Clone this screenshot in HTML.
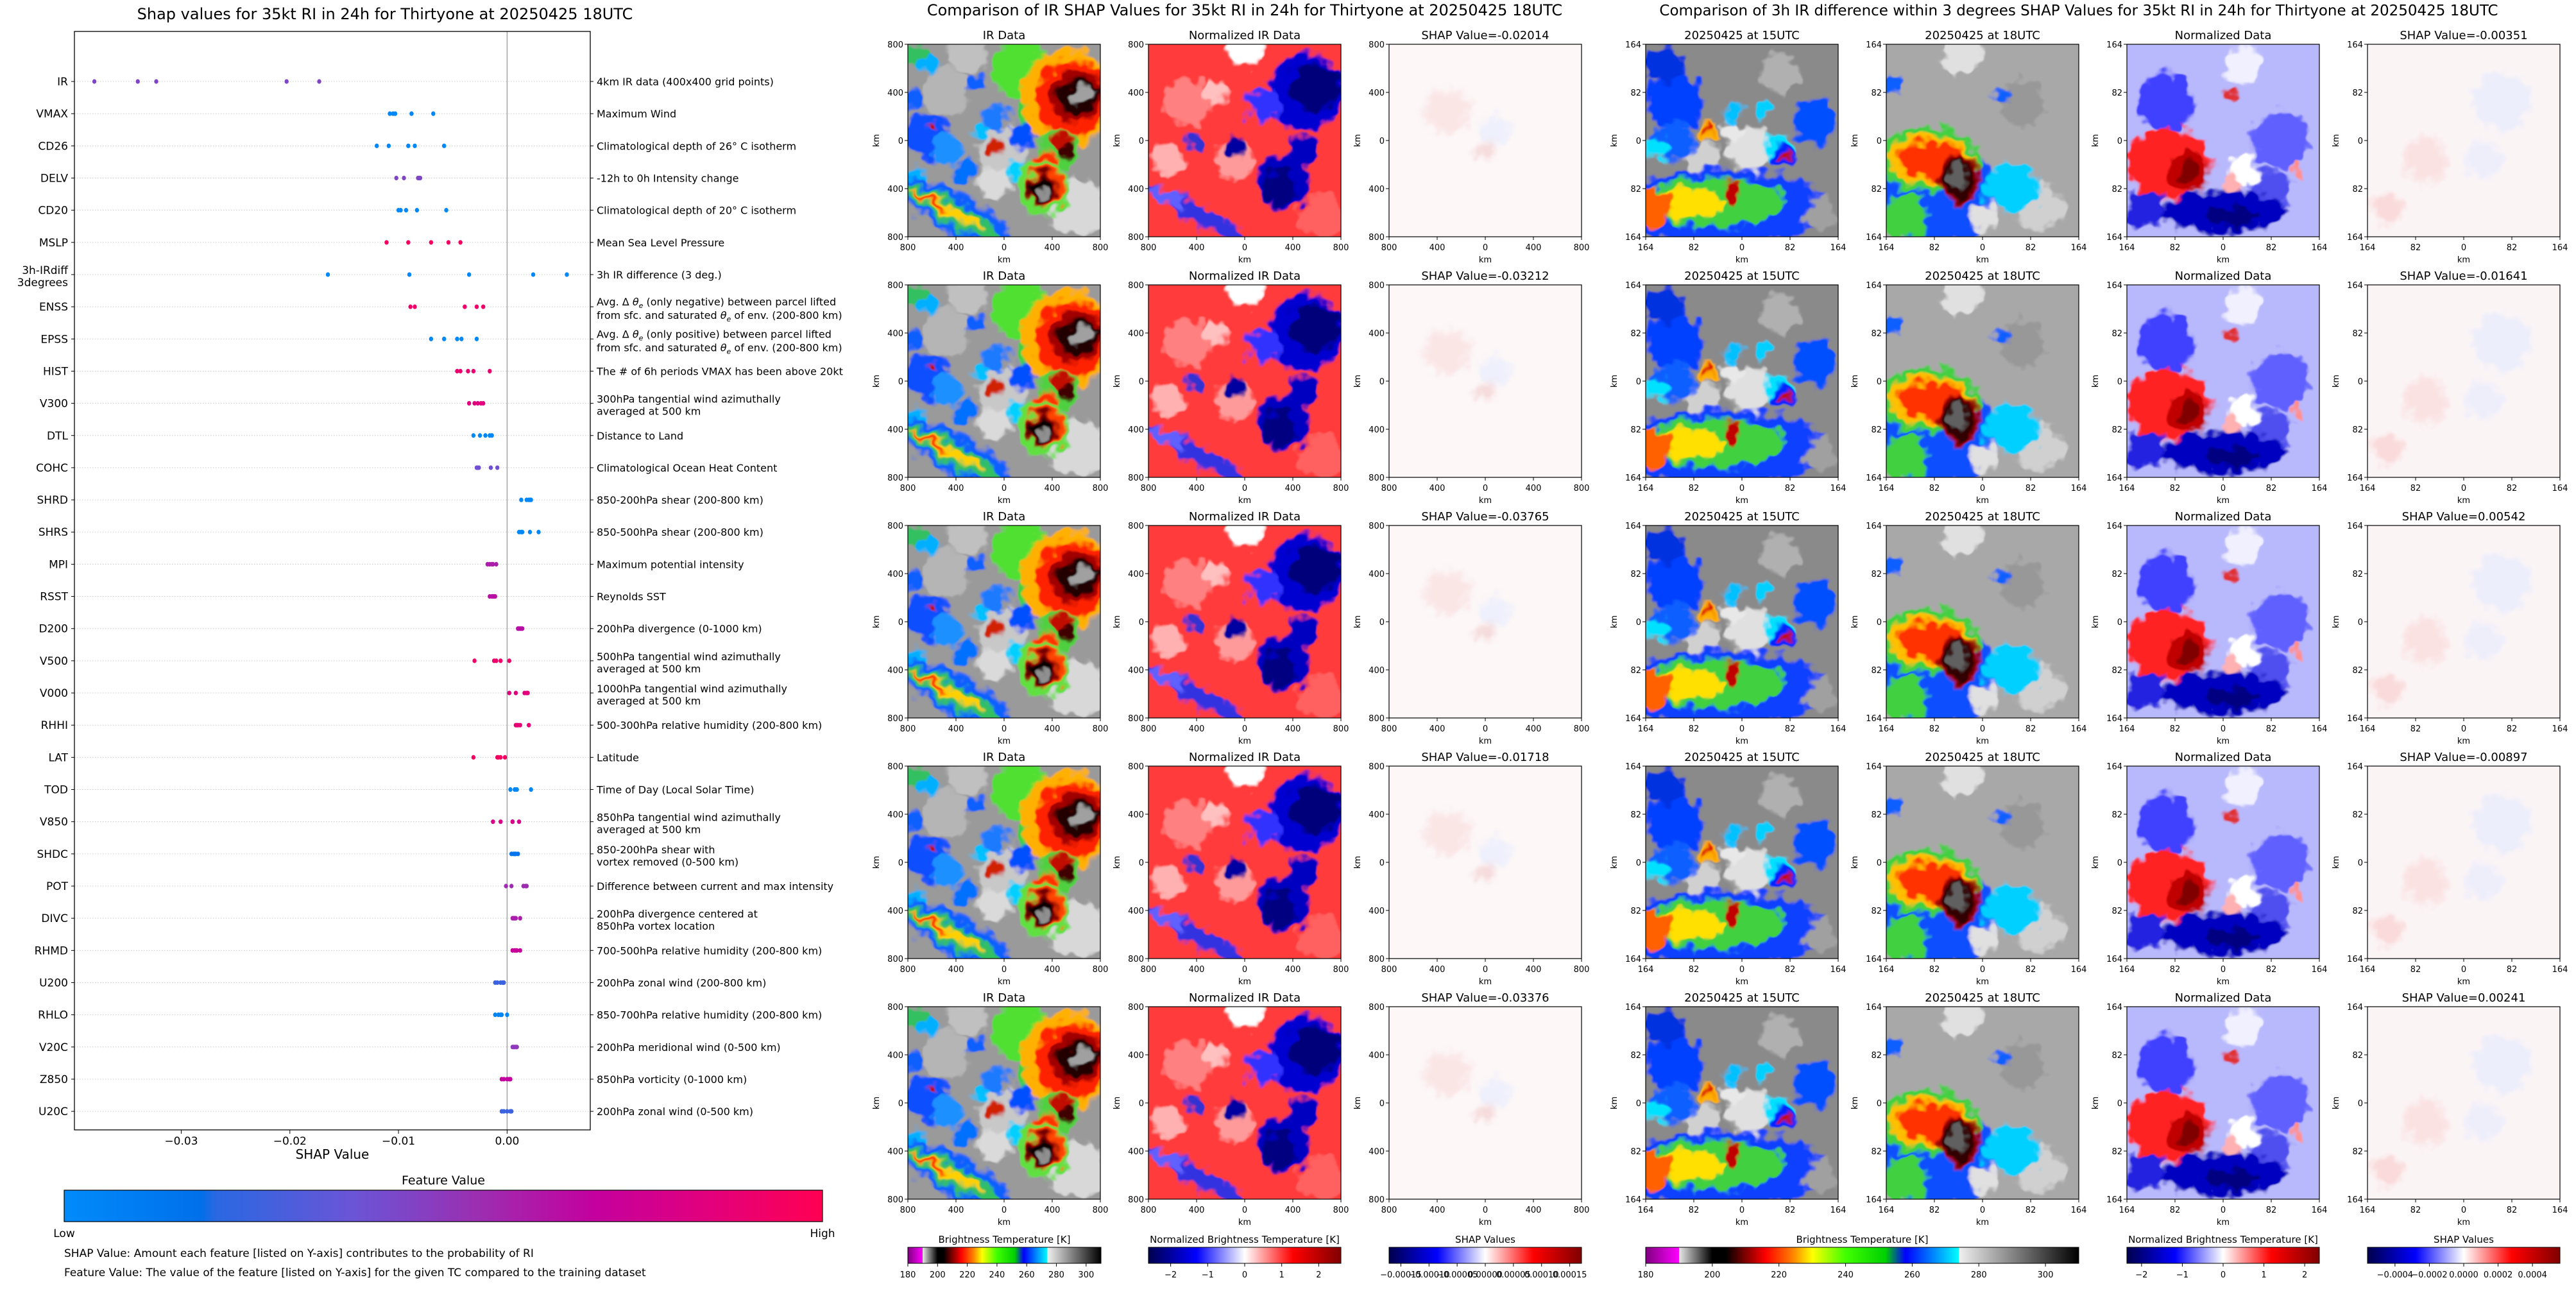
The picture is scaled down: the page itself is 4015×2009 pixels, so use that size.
<!DOCTYPE html>
<html><head><meta charset="utf-8"><title>SHAP RI</title>
<style>html,body{margin:0;padding:0;background:#fff}svg{display:block;font-family:"DejaVu Sans","Liberation Sans",sans-serif}</style></head>
<body>
<svg id="root" width="4015" height="2009" viewBox="0 0 4015 2009" xmlns="http://www.w3.org/2000/svg">
<defs>
<linearGradient id="shapcm" x1="0" x2="1" y1="0" y2="0">
<stop offset="0" stop-color="#008bfb"/><stop offset="0.18" stop-color="#0070ea"/><stop offset="0.2" stop-color="#2a68e2"/><stop offset="0.38" stop-color="#6a55d6"/><stop offset="0.55" stop-color="#9d2db0"/><stop offset="0.7" stop-color="#c4009e"/><stop offset="0.85" stop-color="#e2007c"/><stop offset="1" stop-color="#ff0052"/></linearGradient>
<linearGradient id="btcm" x1="0" x2="1" y1="0" y2="0">
<stop offset="0" stop-color="#800080"/><stop offset="0.0769" stop-color="#ff00ff"/><stop offset="0.0769" stop-color="#e8e8e8"/><stop offset="0.1538" stop-color="#000"/><stop offset="0.1846" stop-color="#000"/><stop offset="0.2308" stop-color="#800000"/><stop offset="0.2769" stop-color="#ff0000"/><stop offset="0.3385" stop-color="#ff8000"/><stop offset="0.3846" stop-color="#ffff00"/><stop offset="0.4615" stop-color="#40ff00"/><stop offset="0.5538" stop-color="#00d000"/><stop offset="0.6" stop-color="#0000ff"/><stop offset="0.6615" stop-color="#0080ff"/><stop offset="0.7231" stop-color="#00ffff"/><stop offset="0.7231" stop-color="#f0f0f0"/><stop offset="1" stop-color="#000"/></linearGradient>
<linearGradient id="seis" x1="0" x2="1" y1="0" y2="0">
<stop offset="0" stop-color="#00004c"/><stop offset="0.25" stop-color="#0000ff"/><stop offset="0.5" stop-color="#fff"/><stop offset="0.75" stop-color="#ff0000"/><stop offset="1" stop-color="#800000"/></linearGradient>
<filter id="bl" x="-10%" y="-10%" width="120%" height="120%"><feGaussianBlur in="SourceGraphic" stdDeviation="2.5" result="b"/><feTurbulence type="fractalNoise" baseFrequency="0.045" numOctaves="2" seed="3" result="n"/><feDisplacementMap in="b" in2="n" scale="34" xChannelSelector="R" yChannelSelector="G"/></filter>
<filter id="bl2" x="-10%" y="-10%" width="120%" height="120%"><feGaussianBlur in="SourceGraphic" stdDeviation="5" result="b"/><feTurbulence type="fractalNoise" baseFrequency="0.05" numOctaves="2" seed="7" result="n"/><feDisplacementMap in="b" in2="n" scale="30" xChannelSelector="R" yChannelSelector="G"/></filter>
</defs>
<g id="left-chart"></g>
<g id="panels"></g>
</svg>
<script>
const NS='http://www.w3.org/2000/svg';
const root=document.getElementById('root');
function mk(tag,attrs,parent,text){const e=document.createElementNS(NS,tag);for(const k in attrs)e.setAttribute(k,attrs[k]);if(text!==undefined)e.textContent=text;(parent||root).appendChild(e);return e;}

// ---------- Left chart data ----------
const features=["IR","VMAX","CD26","DELV","CD20","MSLP","3h-IRdiff\n3degrees","ENSS","EPSS","HIST","V300","DTL","COHC","SHRD","SHRS","MPI","RSST","D200","V500","V000","RHHI","LAT","TOD","V850","SHDC","POT","DIVC","RHMD","U200","RHLO","V20C","Z850","U20C"];
const descriptions=["4km IR data (400x400 grid points)","Maximum Wind","Climatological depth of 26° C isotherm","-12h to 0h Intensity change","Climatological depth of 20° C isotherm","Mean Sea Level Pressure","3h IR difference (3 deg.)","ENSS_DESC","EPSS_DESC","The # of 6h periods VMAX has been above 20kt","300hPa tangential wind azimuthally\naveraged at 500 km","Distance to Land","Climatological Ocean Heat Content","850-200hPa shear (200-800 km)","850-500hPa shear (200-800 km)","Maximum potential intensity","Reynolds SST","200hPa divergence (0-1000 km)","500hPa tangential wind azimuthally\naveraged at 500 km","1000hPa tangential wind azimuthally\naveraged at 500 km","500-300hPa relative humidity (200-800 km)","Latitude","Time of Day (Local Solar Time)","850hPa tangential wind azimuthally\naveraged at 500 km","850-200hPa shear with\nvortex removed (0-500 km)","Difference between current and max intensity","200hPa divergence centered at\n850hPa vortex location","700-500hPa relative humidity (200-800 km)","200hPa zonal wind (200-800 km)","850-700hPa relative humidity (200-800 km)","200hPa meridional wind (0-500 km)","850hPa vorticity (0-1000 km)","200hPa zonal wind (0-500 km)"];
const shapValues=[
[-0.0380,-0.0340,-0.0323,-0.0203,-0.0173],
[-0.0108,-0.0105,-0.0103,-0.0088,-0.0068],
[-0.0120,-0.0109,-0.0091,-0.0085,-0.0058],
[-0.0102,-0.0095,-0.0082,-0.0080,-0.0081],
[-0.0100,-0.0098,-0.0093,-0.0083,-0.0056],
[-0.0111,-0.0091,-0.0070,-0.0054,-0.0043],
[-0.0165,-0.0090,-0.0035,0.0024,0.0055],
[-0.0089,-0.0085,-0.0039,-0.0028,-0.0022],
[-0.0070,-0.0058,-0.0046,-0.0042,-0.0028],
[-0.0046,-0.0043,-0.0036,-0.0031,-0.0016],
[-0.0035,-0.0030,-0.0027,-0.0024,-0.0022],
[-0.0031,-0.0025,-0.0020,-0.0016,-0.0014],
[-0.0028,-0.0027,-0.0026,-0.0015,-0.0009],
[0.0013,0.0018,0.0020,0.0021,0.0022],
[0.0011,0.0013,0.0014,0.0021,0.0029],
[-0.0018,-0.0016,-0.0014,-0.0013,-0.0010],
[-0.0016,-0.0014,-0.0013,-0.0012,-0.0011],
[0.0010,0.0011,0.0012,0.0013,0.0014],
[-0.0030,-0.0012,-0.0010,-0.0006,0.0002],
[0.0002,0.0008,0.0016,0.0018,0.0019],
[0.0008,0.0009,0.0010,0.0012,0.0020],
[-0.0031,-0.0009,-0.0008,-0.0006,-0.0002],
[0.0003,0.0007,0.0008,0.0009,0.0022],
[-0.0013,-0.0006,0.0005,0.0005,0.0011],
[0.0004,0.0006,0.0007,0.0008,0.0010],
[-0.0001,0.0004,0.0015,0.0017,0.0018],
[0.0005,0.0006,0.0007,0.0008,0.0012],
[0.0005,0.0007,0.0008,0.0009,0.0012],
[-0.0011,-0.0009,-0.0006,-0.0004,-0.0003],
[-0.0011,-0.0008,-0.0006,-0.0005,0.0000],
[0.0005,0.0006,0.0007,0.0008,0.0009],
[-0.0005,-0.0003,0.0000,0.0002,0.0003],
[-0.0005,-0.0003,0.0000,0.0003,0.0004]];
const featureColorValues=[0.45,0.03,0.03,0.45,0.03,0.95,0.03,0.92,0.03,0.9,0.85,0.03,0.4,0.03,0.03,0.6,0.65,0.65,0.92,0.85,0.88,0.95,0.03,0.8,0.15,0.55,0.6,0.72,0.25,0.05,0.5,0.7,0.25];
const xTickValues=[-0.03,-0.02,-0.01,0.00];
const xTickLabels=["\u22120.03","\u22120.02","\u22120.01","0.00"];

const AX={l:116,r:920,t:49,b:1761};
function xS(v){return 790.4+v*16930;}
function yS(i){return 127+i*50.16;}
const cmStops=[[0,[0,139,251]],[0.18,[0,112,234]],[0.2,[42,104,226]],[0.38,[106,85,214]],[0.55,[157,45,176]],[0.7,[196,0,158]],[0.85,[226,0,124]],[1,[255,0,82]]];
function cmap(t){for(let i=1;i<cmStops.length;i++){if(t<=cmStops[i][0]){const a=cmStops[i-1],b=cmStops[i];const f=(t-a[0])/(b[0]-a[0]);return 'rgb('+a[1].map((c,k)=>Math.round(c+(b[1][k]-c)*f)).join(',')+')';}}return 'rgb(255,0,82)';}

const L=document.getElementById('left-chart');
mk('text',{x:600,y:30,'font-size':24,'text-anchor':'middle',},L,'Shap values for 35kt RI in 24h for Thirtyone at 20250425 18UTC');
features.forEach((f,i)=>{
  const y=yS(i);
  const g=mk('line',{x1:AX.l,x2:AX.r,y1:y,y2:y,stroke:'#cccccc','stroke-width':1,'stroke-dasharray':'1.5,2.5'},L);
  
  
  mk('line',{x1:AX.l-5,x2:AX.l,y1:y,y2:y,stroke:'#000'},L);
  mk('line',{x1:AX.r,x2:AX.r+5,y1:y,y2:y,stroke:'#000'},L);
  const lines=f.split('\n');
  const t=mk('text',{x:106,y:y+6,'font-size':17,'text-anchor':'end'},L);
  
  
  if(lines.length==1)t.textContent=f;else{t.setAttribute('y',y-1);lines.forEach((ln,k)=>{mk('tspan',{x:106,dy:k?19:0},t,ln);});}
});
function addDesc(i){
  const y=yS(i);const d=descriptions[i];
  const t=mk('text',{x:930,y:y+6,'font-size':16},L);
  
  
  if(d==='ENSS_DESC'||d==='EPSS_DESC'){
    const w=d==='ENSS_DESC'?'negative':'positive';
    t.setAttribute('y',y-2);
    mk('tspan',{x:930},t,'Avg. \u0394 ');mk('tspan',{'font-style':'italic'},t,'\u03b8');mk('tspan',{'font-size':11,dy:4,'font-style':'italic'},t,'e');
    mk('tspan',{dy:-4},t,' (only '+w+') between parcel lifted');
    mk('tspan',{x:930,dy:21},t,'from sfc. and saturated ');mk('tspan',{'font-style':'italic'},t,'\u03b8');mk('tspan',{'font-size':11,dy:4,'font-style':'italic'},t,'e');mk('tspan',{dy:-4},t,' of env. (200-800 km)');
  } else {
    const lines=d.split('\n');
    if(lines.length==1)t.textContent=d;else{t.setAttribute('y',y-1);lines.forEach((ln,k)=>{mk('tspan',{x:930,dy:k?19:0},t,ln);});}
  }
}
descriptions.forEach((d,i)=>addDesc(i));
const zl=mk('line',{x1:xS(0),x2:xS(0),y1:AX.t,y2:AX.b,stroke:'#999','stroke-width':1.3},L);


shapValues.forEach((vals,i)=>{vals.forEach((v,j)=>{
  const c=mk('ellipse',{cx:xS(v),cy:yS(i),rx:3.2,ry:3.6,fill:cmap(featureColorValues[i])},L);
  
  
});});
const fr=mk('rect',{x:AX.l,y:AX.t,width:AX.r-AX.l,height:AX.b-AX.t,fill:'none',stroke:'#000','stroke-width':1.3},L);


xTickValues.forEach((v,k)=>{
  mk('line',{x1:xS(v),x2:xS(v),y1:AX.b,y2:AX.b+6,stroke:'#000'},L);
  const t=mk('text',{x:xS(v),y:AX.b+23,'font-size':17,'text-anchor':'middle'},L,xTickLabels[k]);
  
  
});
mk('text',{x:518,y:1806,'font-size':20,'text-anchor':'middle',},L,'SHAP Value');
mk('text',{x:691,y:1846,'font-size':19,'text-anchor':'middle',},L,'Feature Value');
mk('rect',{x:100,y:1855,width:1182,height:49,fill:'url(#shapcm)',stroke:'#000','stroke-width':1.2,},L);
mk('text',{x:100,y:1928,'font-size':17,'text-anchor':'middle',},L,'Low');
mk('text',{x:1282,y:1928,'font-size':17,'text-anchor':'middle',},L,'High');
mk('text',{x:100,y:1959,'font-size':17,},L,'SHAP Value: Amount each feature [listed on Y-axis] contributes to the probability of RI');
mk('text',{x:100,y:1989,'font-size':17,},L,'Feature Value: The value of the feature [listed on Y-axis] for the given TC compared to the training dataset');

// ---------- Image panels (approximate imagery) ----------
const defs=root.querySelector('defs');
function sym(id,base,shapes,filt){
  const g=mk('g',{id:id},defs);
  mk('rect',{x:0,y:0,width:300,height:300,fill:base},g);
  const inner=mk('g',{filter:'url(#'+(filt||'bl')+')'},g);
  mk('rect',{x:-30,y:-30,width:360,height:360,fill:base},inner);
  shapes.forEach(s=>{
    if(s.length===4)mk('circle',{cx:s[0]*300,cy:s[1]*300,r:s[2]*300,fill:s[3]},inner);
    else mk('ellipse',{cx:s[0]*300,cy:s[1]*300,rx:s[2]*300,ry:s[3]*300,fill:s[4],transform:'rotate('+(s[5]||0)+' '+s[0]*300+' '+s[1]*300+')'},inner);
  });
}
sym('irM','#9a9a9a',[
[0.5,0.55,0.13,'#c8c8c8'],[0.88,0.85,0.15,'#d8d8d8'],[0.2,0.25,0.12,'#b5b5b5'],[0.3,0.05,0.1,'#c0c0c0'],[0.45,0.72,0.08,'#dadada'],
[0.1,0.48,0.12,'#0a50ff'],[0.2,0.55,0.08,'#1e90ff'],[0.04,0.72,0.07,'#00b0ff'],[0.35,0.2,0.05,'#1060ff'],[0.45,0.38,0.07,'#1a7aff'],[0.6,0.47,0.07,'#0050ff'],[0.3,0.66,0.06,'#0070ff'],[0.05,0.05,0.06,'#30c060'],[0.12,0.1,0.05,'#00b0ff'],[0.03,0.3,0.05,'#1060ff'],[0.55,0.65,0.05,'#00d0ff'],[0.38,0.45,0.04,'#00c0ff'],
[0.58,0.12,0.15,'#50e030'],[0.62,0.35,0.07,'#40d040'],[0.83,0.28,0.25,'#ffb000'],[0.86,0.28,0.2,'#ff2000'],[0.87,0.27,0.14,'#a00000'],[0.88,0.27,0.1,'#200000'],[0.9,0.26,0.05,'#a0a0a0'],
[0.78,0.55,0.11,'#50d040'],[0.8,0.5,0.05,'#c01000'],[0.82,0.56,0.04,'#400000'],[0.72,0.62,0.06,'#ff3000'],[0.45,0.53,0.04,'#d02000'],[0.12,0.43,0.025,'#c01000'],
[0.7,0.75,0.14,'#60e040'],[0.72,0.74,0.1,'#ff4000'],[0.7,0.75,0.085,'#900000'],[0.7,0.75,0.065,'#100000'],[0.71,0.77,0.03,'#909090'],
[0.25,0.88,0.33,0.1,'#1060ff',28],[0.22,0.87,0.28,0.06,'#30c060',28],[0.2,0.86,0.2,0.03,'#ffd000',28],[0.12,0.82,0.1,0.015,'#ff3000',28]]);
sym('nM','#ff3a3a',[
[0.2,0.3,0.12,'#ff8080'],[0.45,0.6,0.1,'#ff9a9a'],[0.9,0.9,0.12,'#ff6060'],[0.5,0.02,0.1,'#ffffff'],[0.35,0.25,0.06,'#ffc0c0'],[0.1,0.6,0.08,'#ffb0b0'],
[0.82,0.25,0.2,'#0000d0'],[0.86,0.22,0.13,'#00007a'],[0.6,0.32,0.09,'#3030ff'],[0.7,0.72,0.14,'#0000c0'],[0.68,0.75,0.09,'#000080'],[0.45,0.53,0.05,'#0000a0'],[0.8,0.55,0.08,'#0000c0'],[0.25,0.5,0.04,'#3030d0'],
[0.25,0.88,0.3,0.05,'#3030e0',28],[0.1,0.8,0.1,0.04,'#6060ff',28]]);
sym('sM','#fdf7f7',[[0.3,0.35,0.12,'#fbe6e6'],[0.55,0.45,0.08,'#eef0fc'],[0.5,0.55,0.05,'#f6dcdc']],'bl2');
sym('r15','#8a8a8a',[
[0.55,0.55,0.12,'#e0e0e0'],[0.3,0.6,0.1,'#d0d0d0'],[0.7,0.15,0.1,'#b0b0b0'],[0.45,0.45,0.06,'#e8e8e8'],[0.6,0.35,0.05,'#00d0ff'],
[0.15,0.3,0.15,'#0040ff'],[0.1,0.1,0.1,'#0030e0'],[0.88,0.4,0.12,'#0050ff'],[0.7,0.55,0.08,'#00e0ff'],[0.15,0.5,0.1,'#1060ff'],[0.45,0.35,0.05,'#00c0ff'],[0.05,0.55,0.06,'#00e0ff'],
[0.32,0.45,0.05,'#ffb000'],[0.32,0.44,0.025,'#e02000'],[0.72,0.58,0.06,'#0020ff'],[0.73,0.58,0.025,'#c01010'],
[0.4,0.85,0.55,0.2,'#1040ff'],[0.35,0.82,0.38,0.13,'#40d040'],[0.2,0.83,0.2,0.08,'#ffe000'],[0.05,0.85,0.08,0.1,'#ff6000'],[0.45,0.78,0.04,0.08,'#c00000'],[0.9,0.88,0.08,'#a0a0a0']]);
sym('r18','#a8a8a8',[
[0.4,0.05,0.1,'#e0e0e0'],[0.7,0.3,0.12,'#989898'],[0.8,0.85,0.12,'#d0d0d0'],
[0.25,0.78,0.32,0.28,'#1050ff'],[0.65,0.75,0.15,0.12,'#00d0ff'],[0.1,0.9,0.12,'#40d040'],[0.03,0.22,0.05,'#1060ff'],[0.6,0.27,0.04,'#1060ff'],[0.5,0.9,0.07,'#e0e0e0'],
[0.22,0.6,0.26,0.17,'#40d040'],[0.23,0.6,0.22,0.13,'#ffc000'],[0.24,0.6,0.18,0.1,'#ff3000'],[0.38,0.7,0.1,0.13,'#a00000'],[0.38,0.7,0.08,0.11,'#300000'],[0.38,0.68,0.045,0.07,'#606060']]);
sym('rN','#b8b8fc',[
[0.2,0.3,0.15,'#4040ff'],[0.8,0.5,0.15,'#6060ff'],[0.6,0.1,0.1,'#f0f0ff'],[0.6,0.65,0.08,'#ffffff'],[0.75,0.75,0.1,'#5050f0'],
[0.5,0.87,0.32,0.11,'#0000c0'],[0.55,0.9,0.14,0.05,'#000080'],[0.1,0.85,0.1,'#2020e0'],
[0.22,0.62,0.22,0.18,'#ff2020'],[0.32,0.66,0.11,0.11,'#c00000'],[0.33,0.66,0.05,0.06,'#800000'],[0.55,0.26,0.03,'#e03030'],[0.88,0.65,0.03,'#ff9090'],[0.55,0.72,0.05,'#ffb0b0']]);
sym('rS','#fbf4f5',[[0.7,0.3,0.15,'#eceefb'],[0.3,0.6,0.12,'#fbe2e2'],[0.1,0.85,0.08,'#fadada'],[0.6,0.6,0.1,'#eeeefb']],'bl2');

const P=document.getElementById('panels');
const rowTops=[69,444,819,1194,1569];
const midCols=[1415,1790,2165];
const rightCols=[2565,2940,3315,3690];
const midShap=["-0.02014","-0.03212","-0.03765","-0.01718","-0.03376"];
const rightShap=["-0.00351","-0.01641","0.00542","-0.00897","0.00241"];
function panelImg(x,y,symId,name,title,ticks){
  const s=mk('svg',{x:x,y:y,width:300,height:300,viewBox:'0 0 300 300',overflow:'hidden'},P);
  mk('use',{href:'#'+symId},s);
  const g=mk('g',{},P);
  
  
  mk('rect',{x:x,y:y,width:300,height:300,fill:'none',stroke:'#000','stroke-width':1.2},g);
  mk('text',{x:x+150,y:y-8,'font-size':18,'text-anchor':'middle'},g,title);
  ticks.forEach((t,k)=>{
    const px=x+k*75,py=y+k*75;
    mk('line',{x1:px,x2:px,y1:y+300,y2:y+305,stroke:'#000'},g);
    mk('text',{x:px,y:y+321,'font-size':13,'text-anchor':'middle'},g,t);
    mk('line',{x1:x-5,x2:x,y1:py,y2:py,stroke:'#000'},g);
    mk('text',{x:x-7,y:py+5,'font-size':13,'text-anchor':'end'},g,t);
  });
  mk('text',{x:x+150,y:y+340,'font-size':13,'text-anchor':'middle'},g,'km');
  mk('text',{x:x-45,y:y+150,'font-size':13,'text-anchor':'middle',transform:'rotate(-90 '+(x-45)+' '+(y+150)+')'},g,'km');
}
const midTicks=["800","400","0","400","800"];
const rightTicks=["164","82","0","82","164"];
rowTops.forEach((y,r)=>{
  panelImg(midCols[0],y,'irM','ir-data-panel-'+r,'IR Data',midTicks);
  panelImg(midCols[1],y,'nM','normalized-ir-panel-'+r,'Normalized IR Data',midTicks);
  panelImg(midCols[2],y,'sM','ir-shap-panel-'+r,'SHAP Value='+midShap[r],midTicks);
  panelImg(rightCols[0],y,'r15','ir-15utc-panel-'+r,'20250425 at 15UTC',rightTicks);
  panelImg(rightCols[1],y,'r18','ir-18utc-panel-'+r,'20250425 at 18UTC',rightTicks);
  panelImg(rightCols[2],y,'rN','normalized-diff-panel-'+r,'Normalized Data',rightTicks);
  panelImg(rightCols[3],y,'rS','diff-shap-panel-'+r,'SHAP Value='+rightShap[r],rightTicks);
});
mk('text',{x:1940,y:24,'font-size':24,'text-anchor':'middle',},P,'Comparison of IR SHAP Values for 35kt RI in 24h for Thirtyone at 20250425 18UTC');
mk('text',{x:3240,y:24,'font-size':23,'text-anchor':'middle',},P,'Comparison of 3h IR difference within 3 degrees SHAP Values for 35kt RI in 24h for Thirtyone at 20250425 18UTC');

function cbar(x,w,grad,title,tvals,tlabels,vmin,vmax,name){
  const g=mk('g',{},P);
  
  
  mk('text',{x:x+w/2,y:1937,'font-size':15,'text-anchor':'middle'},g,title);
  mk('rect',{x:x,y:1944,width:w,height:25,fill:'url(#'+grad+')',stroke:'#000','stroke-width':1},g);
  tvals.forEach((v,k)=>{const px=x+(v-vmin)/(vmax-vmin)*w;
    mk('line',{x1:px,x2:px,y1:1969,y2:1974,stroke:'#000'},g);
    mk('text',{x:px,y:1991,'font-size':13,'text-anchor':'middle'},g,tlabels[k]);});
}
const btTicks=[180,200,220,240,260,280,300];
const btLabels=["180","200","220","240","260","280","300"];
const nTicks=[-2,-1,0,1,2];
const nLabels=["\u22122","\u22121","0","1","2"];
const sTicksMid=[-0.00015,-0.0001,-0.00005,0,0.00005,0.0001,0.00015];
const sLabelsMid=["\u22120.00015","\u22120.00010","\u22120.00005","0.00000","0.00005","0.00010","0.00015"];
const sTicksR=[-0.0004,-0.0002,0,0.0002,0.0004];
const sLabelsR=["\u22120.0004","\u22120.0002","0.0000","0.0002","0.0004"];
cbar(1415,301,'btcm','Brightness Temperature [K]',btTicks,btLabels,180,310,'brightness-colorbar-mid');
cbar(1790,300,'seis','Normalized Brightness Temperature [K]',nTicks,nLabels,-2.6,2.6,'normalized-colorbar-mid');
cbar(2165,300,'seis','SHAP Values',sTicksMid,sLabelsMid,-0.000171,0.000171,'shap-colorbar-mid');
cbar(2565,675,'btcm','Brightness Temperature [K]',btTicks,btLabels,180,310,'brightness-colorbar-right');
cbar(3315,300,'seis','Normalized Brightness Temperature [K]',nTicks,nLabels,-2.36,2.36,'normalized-colorbar-right');
cbar(3690,300,'seis','SHAP Values',sTicksR,sLabelsR,-0.00056,0.00056,'shap-colorbar-right');
</script>
</body></html>
